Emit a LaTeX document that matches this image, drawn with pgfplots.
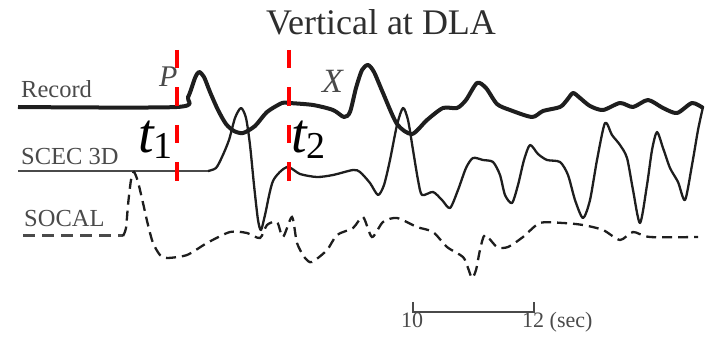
\documentclass[border=0pt]{standalone}
\usepackage{pgfplots}
\pgfplotsset{compat=1.18}
\usepackage{fontspec}
\setmainfont{Liberation Serif}
\definecolor{trace}{HTML}{1E1E1E}
\definecolor{lab}{HTML}{4A4A4A}
\definecolor{ttl}{HTML}{2E2E2E}
\begin{document}
\begin{tikzpicture}
\begin{axis}[scale only axis, width=706pt, height=344pt,
  xmin=0, xmax=706, ymin=0, ymax=344, y dir=reverse,
  hide axis, clip=false]
\path (axis cs:0,0) rectangle (axis cs:706,344);
% Record
\addplot[trace, line width=4pt, smooth, tension=0.45, line join=round] coordinates {
(18,107) (177,107) (188,97) (195,78) (199,72) (204,77) (210,92) (218,110) (226,124) (234,131) (243,133) (255,126) (267,112) (282,103) (289,103) (313,105) (333,110) (344,117) (350,112) (356,88) (362,70) (368,65) (374,72) (383,93) (397,124) (412,134) (427,120) (443,108) (457,108) (466,100) (477,83) (486,88) (497,104) (510,110) (532,117) (543,111) (560,107) (567,100) (573,93) (580,98) (590,106) (603,110) (620,103) (633,107) (648,100) (663,108) (677,113) (692,103) (703,108)};
% SCEC 3D flat
\addplot[lab, line width=1.7pt] coordinates {(18,171) (208,171)};
\addplot[trace, line width=2.3pt, smooth, tension=0.45, line join=round] coordinates {
(208,171) (216,168) (222,157) (229,140) (235,118) (241,108) (246,118) (250,145) (254,185) (258,220) (261,230) (265,215) (273,181) (287,167) (300,174) (317,177) (333,175) (353,170) (360,172) (370,183) (378,195) (384,185) (390,160) (397,125) (403,108) (408,120) (413,150) (418,180) (422,195) (433,192) (442,200) (450,208) (458,190) (466,168) (473,158) (483,160) (493,162) (500,175) (505,195) (512,203) (518,185) (524,160) (530,145) (538,154) (547,160) (560,162) (568,175) (575,200) (583,218) (590,200) (597,160) (605,123) (612,135) (620,145) (627,158) (633,190) (640,223) (647,185) (652,150) (657,132) (663,148) (670,168) (678,182) (685,200) (692,165) (698,130) (703,107)};
% SOCAL
\addplot[lab, line width=3pt, dash pattern=on 12pt off 7pt] coordinates {(23,236) (123,236)};
\addplot[trace, line width=2.3pt, dash pattern=on 10pt off 6pt, smooth, tension=0.45] coordinates {
(123,236) (126,228) (128,205) (131,180) (134,172) (138,182) (143,203) (148,225) (153,243) (160,255) (167,258) (187,255) (207,243) (230,232) (247,233) (260,238) (267,225) (277,222) (283,237) (292,217) (297,243) (305,258) (312,262) (327,250) (337,235) (353,228) (363,217) (372,237) (383,222) (397,218) (417,227) (433,232) (447,247) (463,257) (468,268) (472,278) (476,270) (480,250) (485,235) (497,247) (508,247) (523,237) (540,223) (563,223) (583,225) (603,230) (620,240) (633,232) (650,237) (698,237)};
% red markers
\addplot[red, line width=4pt, dash pattern=on 18.5pt off 19pt] coordinates {(177,50) (177,181)};
\addplot[red, line width=4pt, dash pattern=on 18.5pt off 19pt] coordinates {(289,50) (289,181)};
% scale bar
\addplot[lab, line width=1.4pt] coordinates {(413,302) (413,312) (534,312) (534,302)};
% texts
\node[anchor=base, text=ttl, inner sep=0pt] at (axis cs:381,35) {\fontsize{36}{36}\selectfont Vertical at DLA};
\node[anchor=base west, text=lab, inner sep=0pt] at (axis cs:21,98) {\fontsize{24.5}{24.5}\selectfont Record};
\node[anchor=base west, text=lab, inner sep=0pt] at (axis cs:21,165) {\fontsize{24.5}{24.5}\selectfont SCEC 3D};
\node[anchor=base west, text=lab, inner sep=0pt] at (axis cs:24,227) {\fontsize{24.5}{24.5}\selectfont SOCAL};
\node[anchor=base west, text=lab, inner sep=0pt] at (axis cs:159,87) {\fontsize{30}{30}\selectfont\itshape P};
\node[anchor=base west, text=lab, inner sep=0pt] at (axis cs:322,93) {\fontsize{34}{34}\selectfont\itshape X};
\node[anchor=base west, inner sep=0pt] at (axis cs:138,153) {\fontsize{56}{56}\selectfont\itshape t\raisebox{-6pt}{\upshape\fontsize{38}{38}\selectfont 1}};
\node[anchor=base west, inner sep=0pt] at (axis cs:291,153) {\fontsize{56}{56}\selectfont\itshape t\raisebox{-6pt}{\upshape\fontsize{38}{38}\selectfont 2}};
\node[anchor=base, text=lab, inner sep=0pt] at (axis cs:412,327) {\fontsize{22}{22}\selectfont 10};
\node[anchor=base west, text=lab, inner sep=0pt] at (axis cs:522,327) {\fontsize{22}{22}\selectfont 12 (sec)};
\end{axis}
\end{tikzpicture}
\end{document}
